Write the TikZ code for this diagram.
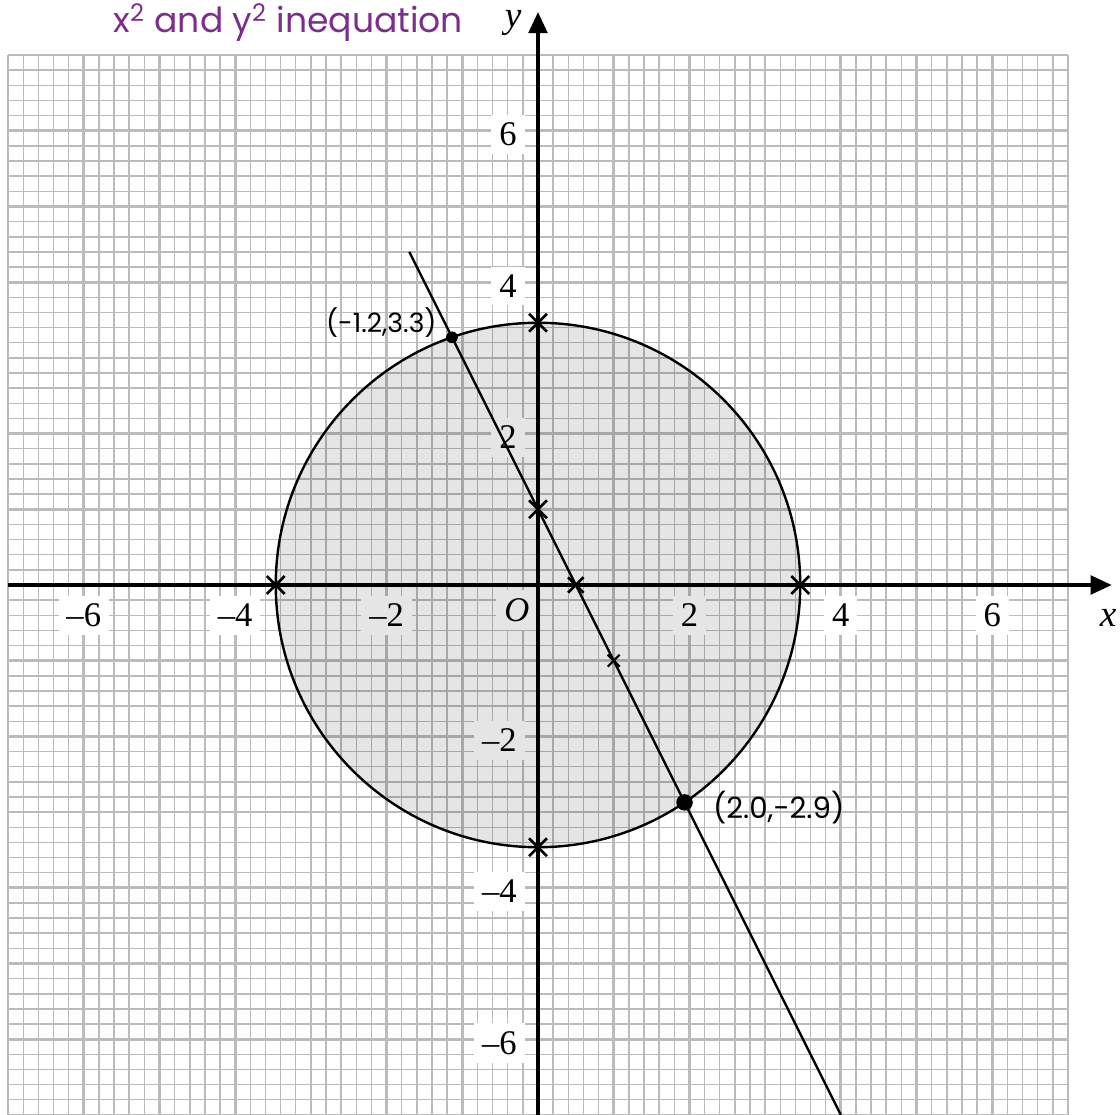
\documentclass[tikz,border=0pt]{standalone}
\usepackage{fontspec}
\setmainfont{Liberation Serif}
\newfontfamily\handfont{Poppins}
\usetikzlibrary{arrows.meta,shapes.misc,positioning}
\definecolor{gridGray}  {RGB}{187, 187, 190}
\definecolor{notePurple}{RGB}{125,  45, 140}
\tikzset{
  ticklab/.style={fill=white,inner sep=3pt,font=\fontsize{13}{13}\selectfont},
  xmark/.style={cross out,draw,line width=1pt,minimum size=0.2cm,inner sep=0pt},
  axisline/.style={line width=1.4pt,-{Triangle[length=8pt,width=7pt]}},
  curveline/.style={line width=0.9pt},
  handnote/.style={font=\handfont\fontsize{11}{11}\selectfont},
}

\begin{document}
\begin{tikzpicture}
  \useasboundingbox (-7.107,-7.001) rectangle (7.688,7.728);

  % ── GRID ──────────────────────────────────────────────
  \foreach \i in {-35,...,35}{
    \draw[gridGray,line width=0.55pt] (\i/5,-7) -- (\i/5,7);
    \draw[gridGray,line width=0.55pt] (-7,\i/5) -- (7,\i/5);
  }
  \draw[gridGray,line width=1pt,step=1] (-7,-7) grid (7,7);

  % ── TICK LABELS ───────────────────────────────────────
  \foreach \v/\s/\n in {-6/{–6}/xa,-4/{–4}/xb,-2/{–2}/xc,2/2/xd,4/4/xe,6/6/xf}{
    \node[ticklab] (\n) at (\v,-0.4) {\s};
  }
  \foreach \v/\s/\n in {-6/{–6}/ya,-4/{–4}/yb,-2/{–2}/yc,2/2/yd,4/4/ye,6/6/yf}{
    \node[ticklab,anchor=east] (\n) at (-0.17,\v-0.05) {\s};
  }
  \node[ticklab] (orig) at (-0.28,-0.33) {\textit{O}};

  % ── SHADED REGION ─────────────────────────────────────
  \fill[black,fill opacity=0.1] (0,0) circle (3.4641);
  \draw[curveline] (0,0) circle (3.4641);

  % ── AXES ──────────────────────────────────────────────
  \coordinate (xl) at (-7,0);
  \coordinate (xr) at (7.58,0);
  \coordinate (yb) at (0,-7);
  \coordinate (yt) at (0,7.57);
  \draw[axisline] (xl) -- (xr);
  \draw[axisline] (yb) -- (yt);
  \node[font=\fontsize{14}{14}\selectfont\itshape] (xlab) at (7.53,-0.44) {x};
  \node[font=\fontsize{14}{14}\selectfont\itshape] (ylab) at (-0.33,7.43) {y};

  % ── LINE ──────────────────────────────────────────────
  \coordinate (ltop) at (-1.7,4.4);
  \coordinate (lbot) at (4,-7);
  \draw[curveline] (ltop) -- (lbot);

  % crosses
  \node[xmark] (ct) at (0,3.4641) {};
  \node[xmark] (cb) at (0,-3.4641) {};
  \node[xmark] (cl) at (-3.4641,0) {};
  \node[xmark] (cr) at (3.4641,0) {};
  \node[xmark] (cy) at (0,1) {};
  \node[xmark,minimum size=0.17cm] (cx) at (0.5,0) {};
  \node[xmark,minimum size=0.13cm,line width=0.8pt] (cm) at (1,-1) {};

  % intersection points
  \node[circle,fill,inner sep=0pt,minimum size=4.4pt] (pa) at (-1.136,3.272) {};
  \node[circle,fill,inner sep=0pt,minimum size=6.2pt] (pb) at (1.936,-2.872) {};

  % ── NOTES ─────────────────────────────────────────────
  \node[handnote,font=\handfont\fontsize{10}{10}\selectfont] (na) at (-2.07,3.47) {(-1.2,3.3)};
  \node[handnote] (nb) at (3.18,-2.94) {(2.0,-2.9)};
  \node[handnote,notePurple,font=\handfont\fontsize{13}{13}\selectfont]
        (ttl) at (-3.3,7.43) {x\textsuperscript{2} and y\textsuperscript{2} inequation};

\end{tikzpicture}
\end{document}
